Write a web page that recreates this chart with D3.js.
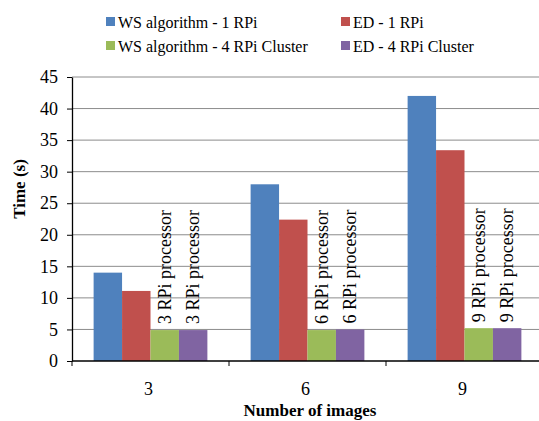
<!DOCTYPE html>
<html>
<head>
<meta charset="utf-8">
<script src="https://cdn.jsdelivr.net/npm/d3@7"></script>
<style>
  body { margin: 0; background: #fff; }
</style>
</head>
<body>
<svg id="chart"></svg>
<script>
var width = 539;
var height = 421;

var categories = ['3', '6', '9'];
var seriesNames = ['WS algorithm - 1 RPi', 'ED - 1 RPi', 'WS algorithm - 4 RPi Cluster', 'ED - 4 RPi Cluster'];
var seriesColors = ['#4f81bd', '#c0504d', '#9bbb59', '#8064a2'];
var wsOne = [14.0, 28.0, 42.0];
var edOne = [11.1, 22.4, 33.4];
var wsCluster = [4.9, 4.9, 5.2];
var edCluster = [4.9, 5.0, 5.2];
var barLabels = ['3 RPi processor', '6 RPi processor', '9 RPi processor'];
var yTicks = [0, 5, 10, 15, 20, 25, 30, 35, 40, 45];

var seriesValues = [wsOne, edOne, wsCluster, edCluster];
var rows = categories.map((c, i) => ({
  cat: c,
  vals: seriesValues.map((s, j) => ({ key: j, value: s[i] }))
}));

var plotLeft = 72, plotTop = 77, plotBottom = 361;
var groupWidth = 157;
var serif = "'Liberation Serif', 'Times New Roman', Times, serif";

var svg = d3.select('#chart')
    .attr('width', width)
    .attr('height', height);

var yScale = d3.scaleLinear()
    .domain([0, 45])
    .range([plotBottom, plotTop]);

var x0 = d3.scaleBand()
    .domain(categories)
    .range([plotLeft, plotLeft + groupWidth * categories.length])
    .padding(0);

var x1 = d3.scaleBand()
    .domain(d3.range(seriesNames.length))
    .range([0, x0.bandwidth()])
    .paddingInner(0)
    .paddingOuter(0.76);

// gridlines
svg.append('g')
  .selectAll('line')
  .data(yTicks.slice(1))
  .enter()
  .append('line')
    .attr('x1', plotLeft)
    .attr('x2', width)
    .attr('y1', d => yScale(d))
    .attr('y2', d => yScale(d))
    .attr('stroke', '#8c8c8c')
    .attr('stroke-width', 1);

// bars
var groups = svg.append('g')
  .selectAll('g')
  .data(rows)
  .enter()
  .append('g')
    .attr('transform', d => 'translate(' + x0(d.cat) + ',0)');

groups.selectAll('rect')
    .data(d => d.vals)
    .enter()
  .append('rect')
    .attr('x', d => x1(d.key))
    .attr('y', d => yScale(d.value))
    .attr('width', x1.bandwidth())
    .attr('height', d => plotBottom - yScale(d.value))
    .attr('fill', d => seriesColors[d.key]);

// rotated labels over cluster bars
groups.each(function(d, i) {
  d3.select(this).selectAll('text.lbl')
      .data(d.vals.filter(v => v.key >= 2))
      .enter()
    .append('text')
      .attr('class', 'lbl')
      .attr('transform', v => 'translate(' + (x1(v.key) + x1.bandwidth() / 2) + ',' + (yScale(v.value) - 6) + ') rotate(-90)')
      .attr('dy', '0.35em')
      .style('font-size', '18px')
      .text(barLabels[i]);
});

// y axis
var yAxis = d3.axisLeft(yScale)
    .tickValues(yTicks)
    .tickSize(5)
    .tickSizeOuter(0)
    .tickPadding(9);

var yG = svg.append('g')
    .attr('transform', 'translate(' + plotLeft + ',0)')
    .call(yAxis);
yG.select('.domain').attr('stroke', '#000').attr('stroke-width', 1.3);
yG.selectAll('line').attr('stroke', '#000');
yG.selectAll('text').attr('fill', '#000').style('font-size', '18px');

// x axis line + ticks at category boundaries
svg.append('line')
    .attr('x1', plotLeft)
    .attr('x2', width)
    .attr('y1', plotBottom)
    .attr('y2', plotBottom)
    .attr('stroke', '#000')
    .attr('stroke-width', 1.3);

svg.append('g')
  .selectAll('line')
  .data(categories)
  .enter()
  .append('line')
    .attr('x1', d => x0(d))
    .attr('x2', d => x0(d))
    .attr('y1', plotBottom)
    .attr('y2', plotBottom + 5)
    .attr('stroke', '#000');

svg.append('g')
  .selectAll('text')
  .data(categories)
  .enter()
  .append('text')
    .attr('x', d => x0(d) + x0.bandwidth() / 2 - 2)
    .attr('y', 395)
    .style('text-anchor', 'middle')
    .style('font-size', '18px')
    .text(d => d);

// axis titles
svg.append('text')
    .attr('x', 310)
    .attr('y', 416)
    .style('text-anchor', 'middle')
    .style('font-size', '17px')
    .style('font-weight', 'bold')
    .text('Number of images');

svg.append('text')
    .attr('transform', 'rotate(-90)')
    .attr('x', -189)
    .attr('y', 25)
    .style('text-anchor', 'middle')
    .style('font-size', '17px')
    .style('font-weight', 'bold')
    .text('Time (s)');

// legend
var legendPos = [[106, 17], [341, 17], [106, 41], [341, 41]];
var legend = svg.append('g')
  .selectAll('g')
  .data(seriesNames)
  .enter()
  .append('g')
    .attr('transform', (d, i) => 'translate(' + legendPos[i][0] + ',' + legendPos[i][1] + ')');

legend.append('rect')
    .attr('width', 9)
    .attr('height', 9)
    .attr('fill', (d, i) => seriesColors[i]);

legend.append('text')
    .attr('x', 12)
    .attr('y', 11)
    .style('font-size', '16px')
    .text(d => d);

// one font for every text
svg.selectAll('text')
    .style('font-family', serif);
</script>
</body>
</html>
